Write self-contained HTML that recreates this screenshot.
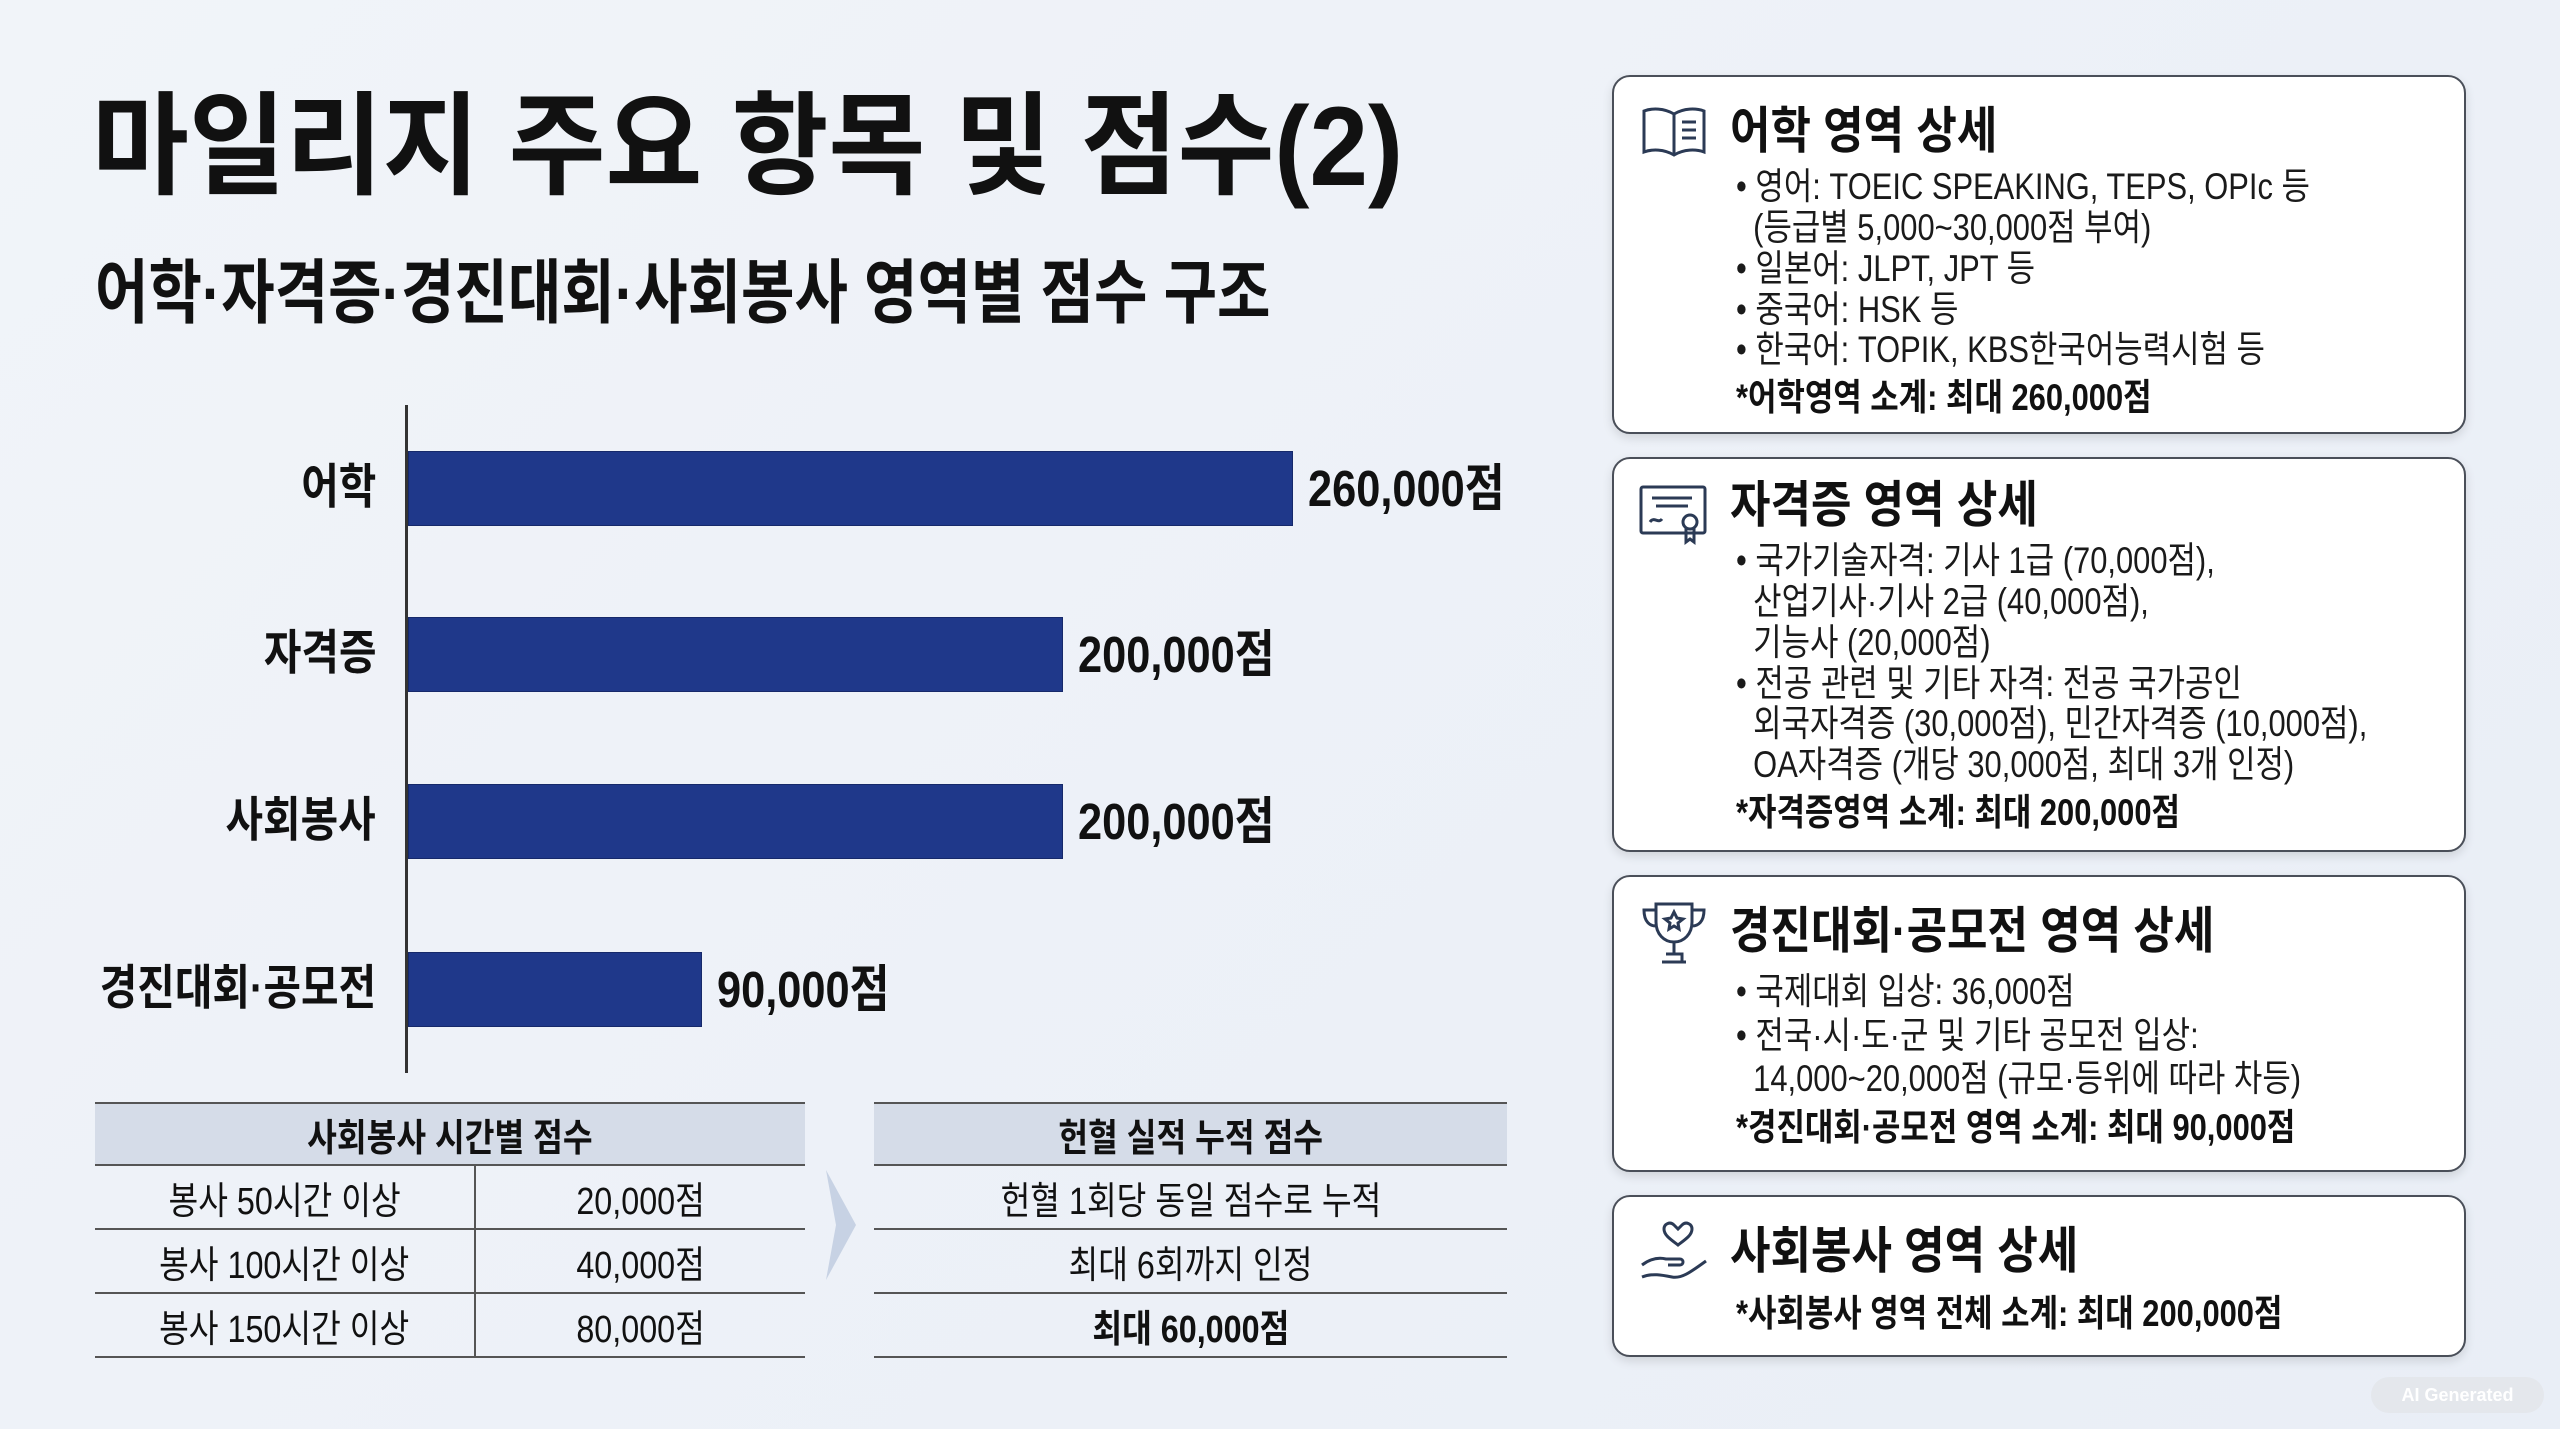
<!DOCTYPE html>
<html><head><meta charset="utf-8"><style>
*{margin:0;padding:0;box-sizing:border-box}
body{width:2560px;height:1429px;overflow:hidden;background:linear-gradient(135deg,#f1f4f9,#e9eef6);font-family:"Liberation Sans","Noto Sans CJK KR",sans-serif;color:#111;position:relative}
.a{position:absolute;white-space:nowrap}
.l{transform-origin:left center}
.bar{position:absolute;left:408px;background:#1f388a;border:1px solid #16296a}
.lab{position:absolute;right:2184px;font-size:48px;font-weight:bold;transform:scaleX(.85);transform-origin:right center;line-height:1;white-space:nowrap}
.val{position:absolute;font-size:51px;font-weight:bold;transform:scaleX(.85);transform-origin:left center;line-height:1;white-space:nowrap}
.panel{position:absolute;left:1612px;width:854px;background:#fff;border:2px solid #4a4f59;border-radius:18px;box-shadow:0 4px 10px rgba(0,0,0,.12)}
.h{position:absolute;left:1730px;font-size:50px;font-weight:bold;transform:scaleX(.88);transform-origin:left center;line-height:1;white-space:nowrap}
.t{position:absolute;left:1736px;font-size:37px;transform:scaleX(.835);transform-origin:left center;line-height:1;white-space:nowrap;color:#1a1a1a}
.b{font-weight:bold;color:#111}
.ic{position:absolute;left:1638px}
table{position:absolute;border-collapse:collapse;font-size:38px}
td{height:64px;text-align:center;border-bottom:2px solid #555}
.hd td{background:#d5dce8;font-weight:bold;height:62px;border-top:2px solid #555}
.cell{display:inline-block;transform:scaleX(.85)}
</style></head><body>
<div class="a l" style="left:92px;top:91px;font-size:112px;font-weight:bold;transform:scaleX(.94);line-height:1">마일리지 주요 항목 및 점수(2)</div>
<div class="a l" style="left:95px;top:258px;font-size:70px;font-weight:bold;transform:scaleX(.83);line-height:1">어학·자격증·경진대회·사회봉사 영역별 점수 구조</div>

<div style="position:absolute;left:405px;top:405px;width:3px;height:668px;background:#333"></div>
<div class="bar" style="top:451px;width:885px;height:75px"></div>
<div class="bar" style="top:617px;width:655px;height:75px"></div>
<div class="bar" style="top:784px;width:655px;height:75px"></div>
<div class="bar" style="top:952px;width:294px;height:75px"></div>
<div class="lab" style="top:464px">어학</div>
<div class="lab" style="top:630px">자격증</div>
<div class="lab" style="top:797px">사회봉사</div>
<div class="lab" style="top:965px">경진대회·공모전</div>
<div class="val" style="left:1308px;top:463px">260,000점</div>
<div class="val" style="left:1078px;top:629px">200,000점</div>
<div class="val" style="left:1078px;top:796px">200,000점</div>
<div class="val" style="left:717px;top:964px">90,000점</div>

<table style="left:95px;top:1102px;width:710px">
<tr class="hd"><td colspan="2"><span class="cell">사회봉사 시간별 점수</span></td></tr>
<tr><td style="width:380px;border-right:2px solid #555"><span class="cell">봉사 50시간 이상</span></td><td><span class="cell">20,000점</span></td></tr>
<tr><td style="border-right:2px solid #555"><span class="cell">봉사 100시간 이상</span></td><td><span class="cell">40,000점</span></td></tr>
<tr><td style="border-right:2px solid #555"><span class="cell">봉사 150시간 이상</span></td><td><span class="cell">80,000점</span></td></tr>
</table>
<svg style="position:absolute;left:822px;top:1170px" width="36" height="110"><polygon points="4,0 34,55 4,110 14,55" fill="#c7d2e4"/></svg>
<table style="left:874px;top:1102px;width:633px">
<tr class="hd"><td><span class="cell">헌혈 실적 누적 점수</span></td></tr>
<tr><td><span class="cell">헌혈 1회당 동일 점수로 누적</span></td></tr>
<tr><td><span class="cell">최대 6회까지 인정</span></td></tr>
<tr><td style="font-weight:bold"><span class="cell">최대 60,000점</span></td></tr>
</table>

<div class="panel" style="top:75px;height:359px"></div>
<div class="panel" style="top:457px;height:395px"></div>
<div class="panel" style="top:875px;height:297px"></div>
<div class="panel" style="top:1195px;height:162px"></div>

<svg class="ic" style="top:102px" width="72" height="60" fill="none" stroke="#2b3a55" stroke-width="3"><path d="M36 12 C26 6 14 6 6 9 V50 C14 47 26 47 36 53 C46 47 58 47 66 50 V9 C58 6 46 6 36 12 Z M36 12 V53"/><path d="M44 20h14M44 28h14M44 36h14"/></svg>
<svg class="ic" style="top:482px" width="72" height="66" fill="none" stroke="#2b3a55" stroke-width="3"><rect x="3" y="5" width="64" height="46" rx="2"/><path d="M14 16h40M18 24h32M12 40c4-6 8 2 12-3"/><circle cx="52" cy="40" r="7"/><path d="M48 46v14l4-3 4 3V46"/></svg>
<svg class="ic" style="top:898px" width="72" height="72" fill="none" stroke="#2b3a55" stroke-width="3"><path d="M18 6h36v18c0 12-8 20-18 20S18 36 18 24Z M18 12H6c0 12 6 16 12 16M54 12h12c0 12-6 16-12 16M36 44v12M24 64h24M28 56h16v8"/><path d="M36 14l3 6 6 1-5 4 1 6-5-3-5 3 1-6-5-4 6-1z"/></svg>
<svg class="ic" style="top:1215px" width="76" height="72" fill="none" stroke="#2b3a55" stroke-width="3"><path d="M40 30c-8-6-14-10-14-16 0-5 6-8 10-4l4 4 4-4c4-4 10-1 10 4 0 6-6 10-14 16z"/><path d="M4 50c8-6 16-8 24-6h14c4 0 4 6 0 6H30M4 62c10-4 20-2 30 0 10 2 20-6 34-16"/></svg>

<div class="h" style="top:106px">어학 영역 상세</div>
<div class="t" style="top:168px">• 영어: TOEIC SPEAKING, TEPS, OPIc 등</div>
<div class="t" style="top:209px">&nbsp;&nbsp;(등급별 5,000~30,000점 부여)</div>
<div class="t" style="top:250px">• 일본어: JLPT, JPT 등</div>
<div class="t" style="top:291px">• 중국어: HSK 등</div>
<div class="t" style="top:331px">• 한국어: TOPIK, KBS한국어능력시험 등</div>
<div class="t b" style="top:379px">*어학영역 소계: 최대 260,000점</div>

<div class="h" style="top:480px">자격증 영역 상세</div>
<div class="t" style="top:542px">• 국가기술자격: 기사 1급 (70,000점),</div>
<div class="t" style="top:583px">&nbsp;&nbsp;산업기사·기사 2급 (40,000점),</div>
<div class="t" style="top:624px">&nbsp;&nbsp;기능사 (20,000점)</div>
<div class="t" style="top:665px">• 전공 관련 및 기타 자격: 전공 국가공인</div>
<div class="t" style="top:705px">&nbsp;&nbsp;외국자격증 (30,000점), 민간자격증 (10,000점),</div>
<div class="t" style="top:746px">&nbsp;&nbsp;OA자격증 (개당 30,000점, 최대 3개 인정)</div>
<div class="t b" style="top:794px">*자격증영역 소계: 최대 200,000점</div>

<div class="h" style="top:906px">경진대회·공모전 영역 상세</div>
<div class="t" style="top:973px">• 국제대회 입상: 36,000점</div>
<div class="t" style="top:1017px">• 전국·시·도·군 및 기타 공모전 입상:</div>
<div class="t" style="top:1060px">&nbsp;&nbsp;14,000~20,000점 (규모·등위에 따라 차등)</div>
<div class="t b" style="top:1109px">*경진대회·공모전 영역 소계: 최대 90,000점</div>

<div class="h" style="top:1226px">사회봉사 영역 상세</div>
<div class="t b" style="top:1295px">*사회봉사 영역 전체 소계: 최대 200,000점</div>

<div class="a" style="left:2371px;top:1377px;width:173px;height:36px;border-radius:18px;background:#e4e7ec;color:#fff;font-size:18px;font-weight:bold;text-align:center;line-height:36px">AI Generated</div>
</body></html>
